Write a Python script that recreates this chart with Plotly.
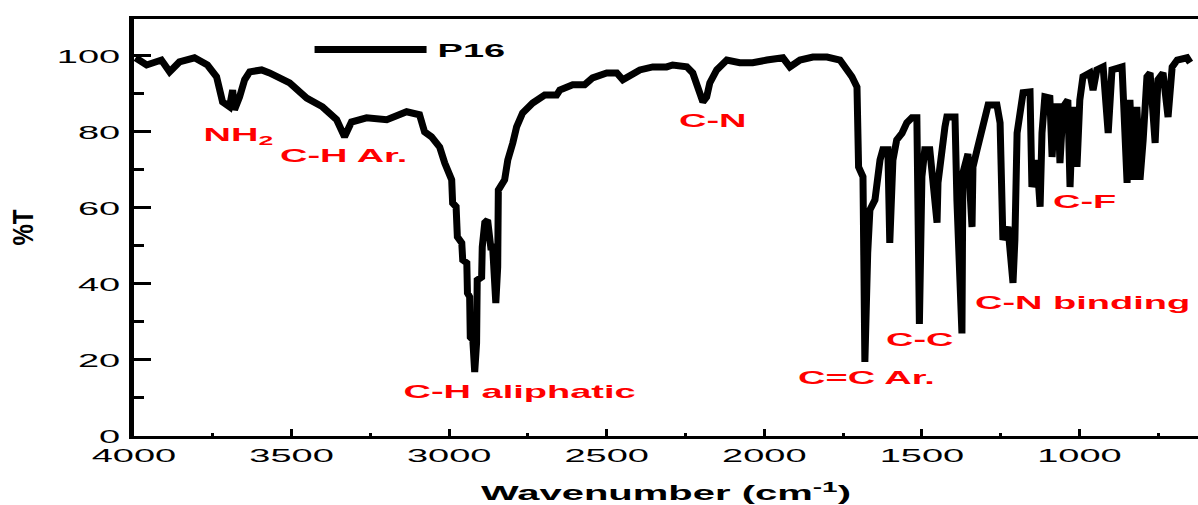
import plotly.graph_objects as go

# ---- data (wavenumber in cm^-1, transmittance in %) ----
wavenumber = [3995, 3960, 3913, 3887, 3856, 3808, 3767, 3738, 3719, 3697,
              3687, 3681, 3665, 3649, 3633, 3595, 3570, 3506, 3452, 3402,
              3357, 3332, 3310, 3262, 3198, 3135, 3094, 3078, 3056, 3030,
              3014, 2992, 2989, 2978, 2974, 2960, 2957, 2944, 2942, 2935,
              2933, 2925, 2919, 2913, 2911, 2897, 2895, 2887, 2878, 2868,
              2862, 2852, 2846, 2844, 2824, 2814, 2798, 2786, 2767, 2735,
              2697, 2659, 2649, 2608, 2570, 2545, 2500, 2468, 2449, 2417,
              2395, 2354, 2310, 2291, 2246, 2227, 2205, 2195, 2183, 2173,
              2151, 2119, 2078, 2037, 1992, 1941, 1919, 1887, 1846, 1801,
              1760, 1744, 1722, 1706, 1705, 1701, 1687, 1681, 1672, 1665,
              1649, 1643, 1633, 1624, 1608, 1602, 1592, 1580, 1563, 1548,
              1532, 1516, 1508, 1500, 1491, 1475, 1465, 1452, 1449, 1437,
              1427, 1421, 1395, 1389, 1373, 1370, 1354, 1341, 1338, 1325,
              1316, 1300, 1290, 1262, 1252, 1243, 1227, 1211, 1205, 1198,
              1189, 1179, 1157, 1151, 1135, 1125, 1119, 1110, 1094, 1087,
              1078, 1068, 1062, 1052, 1037, 1030, 1021, 1008, 999, 989,
              967, 957, 945, 925, 909, 897, 865, 849, 840, 830,
              818, 808, 798, 786, 776, 760, 751, 735, 719, 706,
              690, 659, 649]

transmittance = [99.5, 97.6, 98.9, 95.8, 98.4, 99.5, 97.6, 94.5, 87.9, 86.6,
                 91.0, 85.8, 89.2, 93.7, 95.8, 96.3, 95.5, 92.9, 88.9, 86.6,
                 83.2, 78.7, 82.6, 83.7, 83.2, 85.3, 84.5, 80.0, 78.7, 76.0,
                 71.8, 67.4, 61.3, 60.3, 52.4, 50.8, 46.3, 45.5, 37.6, 36.6,
                 26.0, 25.3, 16.8, 24.5, 41.0, 41.8, 49.7, 56.1, 56.8, 49.7,
                 49.7, 35.0, 44.5, 64.7, 67.4, 72.6, 77.1, 81.3, 85.0, 87.6,
                 89.7, 89.7, 91.0, 92.4, 92.4, 94.2, 95.5, 95.5, 93.7, 95.5,
                 96.3, 97.1, 97.1, 97.6, 97.1, 95.5, 91.0, 87.9, 89.2, 92.9,
                 96.3, 98.9, 98.2, 98.2, 98.9, 99.5, 97.1, 98.9, 99.7, 99.7,
                 98.9, 97.1, 94.5, 91.8, 87.6, 70.8, 68.2, 19.5, 48.2, 59.5,
                 62.1, 67.4, 72.6, 75.3, 75.3, 50.8, 72.6, 77.9, 79.7, 82.4,
                 83.7, 83.7, 29.5, 68.2, 75.3, 75.3, 68.2, 56.1, 66.6, 77.1,
                 81.3, 83.9, 83.9, 62.1, 27.0, 69.2, 74.2, 55.0, 70.8, 75.3,
                 78.7, 85.0, 87.1, 87.1, 82.4, 51.6, 55.0, 40.3, 51.6, 79.7,
                 86.6, 90.3, 90.5, 65.5, 72.6, 60.3, 79.7, 89.2, 88.9, 73.4,
                 86.6, 86.6, 71.8, 86.6, 88.4, 65.5, 86.6, 70.8, 88.4, 94.5,
                 95.5, 91.0, 96.3, 97.1, 79.7, 96.3, 97.1, 66.6, 88.4, 67.4,
                 86.6, 67.4, 77.9, 94.5, 95.5, 77.1, 93.7, 95.5, 83.9, 97.1,
                 98.9, 99.5, 98.2]

series_name = "P16"

# band labels: text, wavenumber, %T
band_labels = ["NH<sub>2</sub>", "C-H Ar.", "C-H aliphatic", "C-N",
               "C=C Ar.", "C-C", "C-N binding", "C-F"]
band_wn = [3668, 3335, 2773, 2164, 1678, 1506, 990, 983]
band_t = [79.0, 73.9, 11.8, 82.9, 15.3, 25.3, 35.0, 61.8]

x_ticks = [4000, 3500, 3000, 2500, 2000, 1500, 1000]
y_ticks = [0, 20, 40, 60, 80, 100]

FONT = "Liberation Sans, Arial, sans-serif"

fig = go.Figure()
fig.add_trace(go.Scatter(
    x=wavenumber, y=transmittance, mode="lines", name="<b>%s</b>" % series_name,
    line=dict(color="black", width=7),
    showlegend=True,
))

for txt, wx, ty in zip(band_labels, band_wn, band_t):
    fig.add_annotation(x=wx, y=ty, text="<b>%s</b>" % txt, showarrow=False,
                       font=dict(family=FONT, size=19, color="#ff0000"),
                       xanchor="center", yanchor="middle")

fig.update_layout(
    width=1198, height=505,
    margin=dict(l=134, r=0, t=19, b=69),
    paper_bgcolor="white", plot_bgcolor="white",
    font=dict(family=FONT, color="black"),
    showlegend=True,
    legend=dict(x=0.165, y=0.972, xanchor="left", yanchor="top",
                bgcolor="rgba(0,0,0,0)", itemwidth=112,
                font=dict(family=FONT, size=19, color="black"),
                traceorder="normal"),
    xaxis=dict(
        range=[4000, 624], tickvals=x_ticks, ticks="inside", ticklen=7,
        tickwidth=3, tickcolor="black", showgrid=False, zeroline=False,
        showline=True, linewidth=3, linecolor="black", mirror=True,
        tickfont=dict(family=FONT, size=19, color="black"),
        minor=dict(dtick=250, tick0=0, ticks="inside", ticklen=3, tickwidth=3,
                   tickcolor="black", showgrid=False),
        title=dict(text="<b>Wavenumber (cm<sup>-1</sup>)</b>",
                   font=dict(family=FONT, size=20, color="black"), standoff=22),
    ),
    yaxis=dict(
        range=[0, 109.7], tickvals=y_ticks, ticks="inside", ticklen=17,
        tickwidth=3, tickcolor="black", showgrid=False, zeroline=False,
        showline=True, linewidth=5, linecolor="black", mirror=False,
        tickfont=dict(family=FONT, size=19, color="black"),
        ticklabelstandoff=5,
        minor=dict(dtick=10, tick0=0, ticks="inside", ticklen=10, tickwidth=3,
                   tickcolor="black", showgrid=False),
        title=dict(text="<b>%T</b>", font=dict(family=FONT, size=24, color="black"),
                   standoff=52),
    ),
)

# the reference picture is horizontally stretched: widen the text glyphs the same way
post_js = """
var st = document.createElement('style');
st.textContent = `
g.xtick, g.ytick, g.annotation, g.g-xtitle, g.g-ytitle, text.legendtext { transform-box: fill-box; }
g.xtick, g.annotation, g.g-xtitle { transform-origin: center; transform: scaleX(2); }
g.g-ytitle { transform-origin: center; transform: scaleX(1.25); }
g.ytick { transform-origin: right center; transform: scaleX(2); }
text.legendtext { transform-origin: left center; transform: translateX(6px) scaleX(2); }
g.legend .scrollbox { clip-path: none !important; }
g.legend { clip-path: none !important; }
`;
document.head.appendChild(st);
"""

fig.write_html("out.html", config={"displayModeBar": False}, post_script=post_js)
